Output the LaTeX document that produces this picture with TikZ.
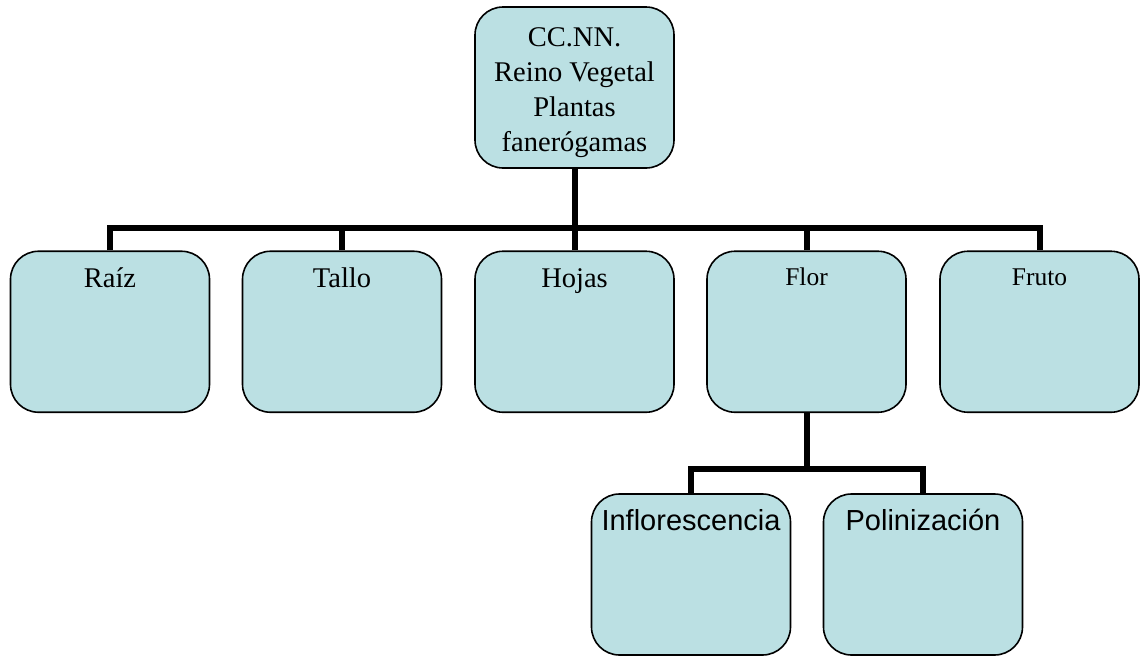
\documentclass[tikz,border=0pt]{standalone}
\usepackage{fontspec}
\setmainfont{Liberation Serif}
\newfontfamily\labelsans{Liberation Sans}
\definecolor{boxfill}{RGB}{187,224,227}
\tikzset{
  orgbox/.style={draw=black, line width=1.6pt, fill=boxfill, rounded corners=28pt,
    minimum width=199pt, minimum height=161pt, inner sep=0pt},
  conn/.style={draw=black, line width=6pt, line join=miter},
  bigtxt/.style={font=\fontsize{28.5}{35}\selectfont, inner sep=0pt, anchor=base},
  smalltxt/.style={font=\fontsize{25.5}{30}\selectfont, inner sep=0pt, anchor=base},
  sanstxt/.style={font=\labelsans\fontsize{29}{34}\selectfont, inner sep=0pt, anchor=base}
}
\begin{document}
\begin{tikzpicture}[x=1pt,y=-1pt]
\useasboundingbox (0,0) rectangle (1141,656);

% boxes
\node[orgbox] (top) at (574.5,87.5) {};
\node[orgbox] (raiz)  at (110,331.75) {};
\node[orgbox] (tallo) at (342,331.75) {};
\node[orgbox] (hojas) at (574.5,331.75) {};
\node[orgbox] (flor)  at (806.5,331.75) {};
\node[orgbox] (fruto) at (1039.5,331.75) {};
\node[orgbox] (infl)  at (691,574.5) {};
\node[orgbox] (poli)  at (923,574.5) {};

% bus lines
\coordinate (bus) at (574.5,228);
\coordinate (fbus) at (806.5,469);

% connectors
\draw[conn] (top.south) -- (top.south |- bus);
\draw[conn] (raiz.north) -- (raiz.north |- bus) -- (fruto.north |- bus) -- (fruto.north);
\draw[conn] (tallo.north) -- (tallo.north |- bus);
\draw[conn] (hojas.north) -- (hojas.north |- bus);
\draw[conn] (flor.north) -- (flor.north |- bus);
\draw[conn] (flor.south) -- (flor.south |- fbus);
\draw[conn] (infl.north) -- (infl.north |- fbus) -- (poli.north |- fbus) -- (poli.north);

% labels
\node[font=\fontsize{28.5}{35}\selectfont, align=center, inner sep=0pt, anchor=north]
  (toptxt) at (574.5,27) {CC.NN.\\Reino Vegetal\\Plantas\\faner\'ogamas};
\node[bigtxt] (raiztxt)  at (110,287) {Ra\'iz};
\node[bigtxt] (tallotxt) at (342,287) {Tallo};
\node[bigtxt] (hojastxt) at (574.5,287) {Hojas};
\node[smalltxt] (flortxt)  at (806.5,285) {Flor};
\node[smalltxt] (frutotxt) at (1039.5,285) {Fruto};
\node[sanstxt] (infltxt) at (691,530) {Inflorescencia};
\node[sanstxt] (politxt) at (923,530) {Polinizaci\'on};
\end{tikzpicture}
\end{document}
